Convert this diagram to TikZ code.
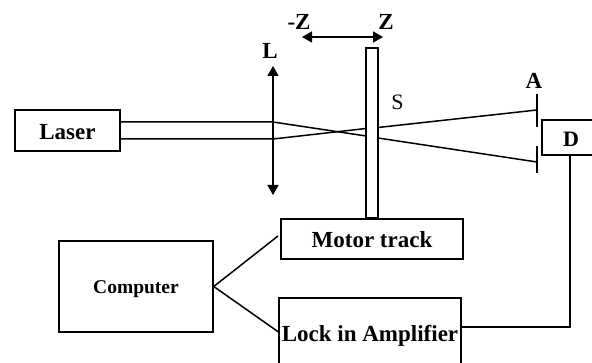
\documentclass[tikz,border=0pt]{standalone}
\usepackage{fontspec}
\setmainfont{Liberation Serif}
\usetikzlibrary{arrows.meta}
\tikzset{
  box/.style={draw=black,line width=1.5pt,fill=white,inner sep=0pt,font=\bfseries,anchor=center,text depth=0pt},
  wire/.style={draw=black,line width=1.5pt},
  dbl/.style={wire,{Triangle[length=10pt,width=11pt]}-{Triangle[length=10pt,width=11pt]}},
  lab/.style={inner sep=0pt,font=\fontsize{23}{23}\selectfont\bfseries},
}
\begin{document}
\begin{tikzpicture}[x=1pt,y=-1pt]
\useasboundingbox (0,0) rectangle (592,363);
\clip (0,0) rectangle (592,363);
% sample plate
\node[box,minimum width=12pt,minimum height=170pt] (sample) at (372,133) {};
% boxes
\node[box,text height=19pt,minimum width=105pt,minimum height=41pt,font=\fontsize{23}{23}\selectfont\bfseries] (laser) at (67.5,130.5) {Laser};
\node[box,text height=15pt,minimum width=154pt,minimum height=91pt,font=\fontsize{19.5}{20}\selectfont\bfseries] (computer) at (136,286.5) {Computer};
\node[box,text height=18pt,minimum width=182pt,minimum height=40pt,font=\fontsize{23}{23}\selectfont\bfseries] (motor) at (372,239) {Motor track};
\node[box,text height=14pt,minimum width=182pt,minimum height=74pt,font=\fontsize{23}{23}\selectfont\bfseries] (lock) at (370,335) {Lock in Amplifier};
\node[box,text height=19pt,minimum width=60pt,minimum height=35pt,text width=56pt,align=left,font=\fontsize{22}{22}\selectfont\bfseries] (det) at (572,137.5) {\hspace{19pt}D};
% named points
\coordinate (lensT) at (273,66);
\coordinate (lensB) at (273,195);
\coordinate (b1) at (273,122);
\coordinate (b2) at (273,139);
\coordinate (inA) at (366,136);
\coordinate (inB) at (366,128.5);
\coordinate (outA) at (378,127.5);
\coordinate (outB) at (378,138);
\coordinate (apA) at (537,110);
\coordinate (apB) at (537,162);
\coordinate (ap1) at (537,94);
\coordinate (ap2) at (537,127);
\coordinate (ap3) at (537,146);
\coordinate (ap4) at (537,173);
\coordinate (zL) at (302,37);
\coordinate (zR) at (383,37);
\coordinate (motorIn) at (278,236);
\coordinate (lockIn) at (278.5,332);
\coordinate (detDown) at (570,155);
\coordinate (corner) at (570,327);
\coordinate (lockOut) at (461,327);
% beams
\draw[wire] (laser.east |- b1) -- (b1) -- (inA);
\draw[wire] (laser.east |- b2) -- (b2) -- (inB);
\draw[wire] (outA) -- (apA);
\draw[wire] (outB) -- (apB);
% lens and travel arrows
\draw[dbl] (lensT) -- (lensB);
\draw[dbl] (zL) -- (zR);
% aperture
\draw[wire] (ap1) -- (ap2);
\draw[wire] (ap3) -- (ap4);
% connectors
\draw[wire] (computer.east) -- (motorIn);
\draw[wire] (computer.east) -- (lockIn);
\draw[wire] (detDown) -- (corner) -- (lockOut);
% labels
\node[lab] (lz) at (299,22) {-Z};
\node[lab] (lzz) at (386,22) {Z};
\node[lab] (ll) at (270,51) {L};
\node[inner sep=0pt,font=\fontsize{22}{22}\selectfont] (ls) at (397.5,102) {S};
\node[lab] (la) at (534,81) {A};
\end{tikzpicture}
\end{document}
